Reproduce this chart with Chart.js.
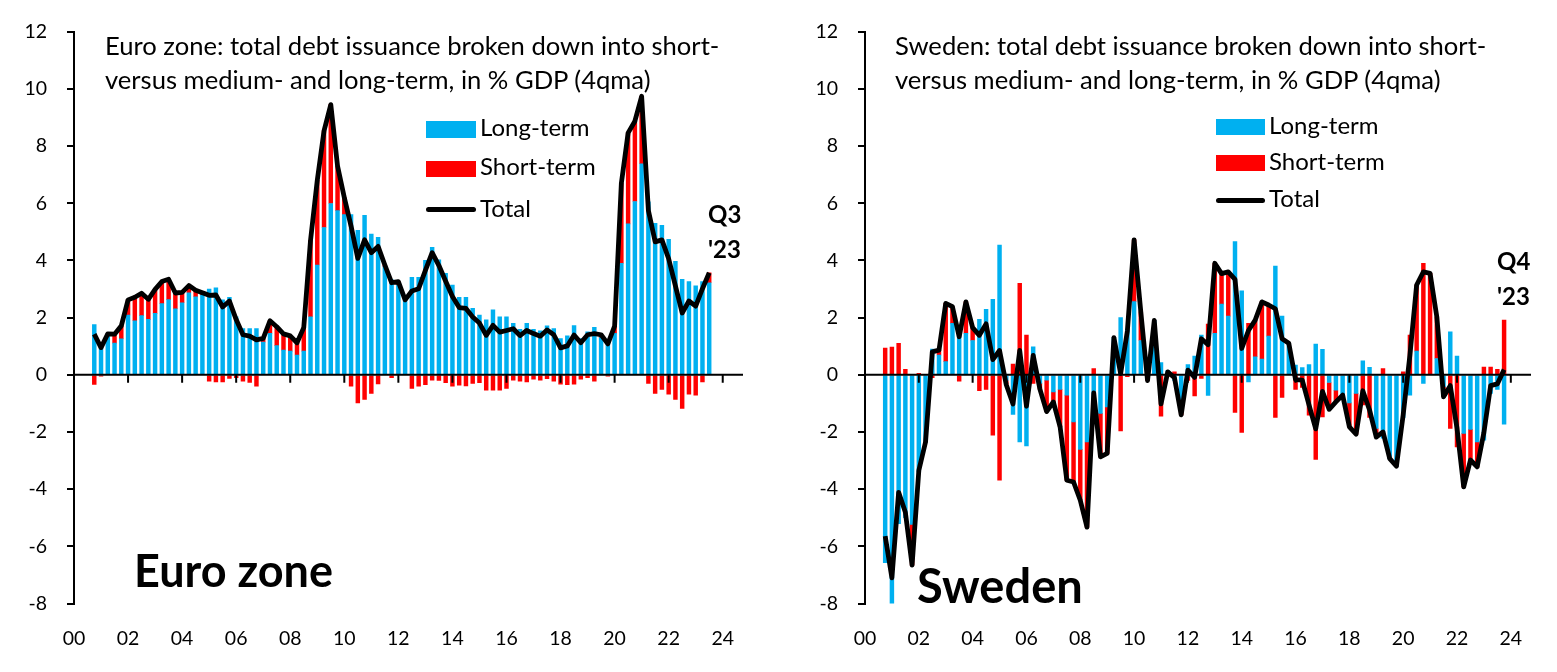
<!DOCTYPE html>
<html><head><meta charset="utf-8">
<script src="https://cdn.jsdelivr.net/npm/chart.js@4.4.1/dist/chart.umd.min.js"></script>
<style>
html,body{margin:0;padding:0;background:#fff;}
#wrap{position:relative;width:1557px;height:672px;overflow:hidden;font-family:Lato,"Open Sans",sans-serif;color:#000;}
canvas{position:absolute;top:0;}
.t{position:absolute;white-space:nowrap;}
.sw{position:absolute;}
</style></head><body><div id="wrap">
<canvas id="c1" width="780" height="672" style="left:0"></canvas>
<canvas id="c2" width="777" height="672" style="left:780px"></canvas>
</div>
<script>
// ---------- data ----------
const yearLabels = ['00','02','04','06','08','10','12','14','16','18','20','22','24'];
const yTicks = [-8,-6,-4,-2,0,2,4,6,8,10,12];
const ezStart = '2000Q4';
const seStart = '2000Q4';

const ezLong = [1.76,1.00,1.43,1.11,1.26,2.09,1.89,2.07,1.94,2.15,
 2.49,2.63,2.31,2.52,2.87,2.73,2.79,3.00,3.04,2.62,
 2.71,2.03,1.62,1.62,1.62,1.14,1.45,1.02,0.86,0.83,
 0.69,0.83,2.03,3.84,5.15,5.99,5.74,5.60,5.60,5.05,
 5.58,4.92,4.81,3.79,3.32,3.14,2.62,3.41,3.41,4.00,
 4.46,4.02,3.55,3.14,2.71,2.71,2.32,2.09,1.92,2.27,
 2.03,2.03,1.80,1.59,1.80,1.59,1.54,1.71,1.62,1.27,
 1.36,1.72,1.27,1.50,1.66,1.30,1.13,1.45,3.90,5.28,
 6.06,7.38,6.05,5.30,5.23,4.74,3.97,3.34,3.26,3.11,
 3.26,3.22];
const ezShort = [-0.34,-0.05,0.00,0.31,0.45,0.53,0.82,0.78,0.70,0.84,
 0.77,0.71,0.55,0.36,0.25,0.23,0.08,-0.22,-0.25,-0.25,
 -0.13,-0.10,-0.22,-0.27,-0.40,0.13,0.44,0.66,0.57,0.53,
 0.43,0.82,2.67,2.96,3.38,3.46,1.56,0.60,-0.40,-0.98,
 -0.86,-0.65,-0.32,0.05,-0.10,0.12,0.00,-0.48,-0.40,-0.35,
 -0.19,-0.20,-0.28,-0.40,-0.36,-0.39,-0.30,-0.28,-0.54,-0.54,
 -0.54,-0.48,-0.19,-0.22,-0.25,-0.15,-0.19,-0.14,-0.22,-0.33,
 -0.35,-0.33,-0.15,-0.10,-0.22,0.10,-0.05,0.25,2.80,3.18,
 2.81,2.36,-0.30,-0.65,-0.51,-0.68,-0.86,-1.18,-0.68,-0.71,
 -0.25,0.35];
const ezTotal = [1.42,0.95,1.43,1.42,1.71,2.62,2.71,2.85,2.64,2.99,
 3.26,3.34,2.86,2.88,3.12,2.96,2.87,2.78,2.79,2.37,
 2.58,1.93,1.40,1.35,1.22,1.27,1.89,1.68,1.43,1.36,
 1.12,1.65,4.70,6.80,8.53,9.45,7.30,6.20,5.20,4.07,
 4.72,4.27,4.49,3.84,3.22,3.26,2.62,2.93,3.01,3.65,
 4.27,3.82,3.27,2.74,2.35,2.32,2.02,1.81,1.38,1.73,
 1.49,1.55,1.61,1.37,1.55,1.44,1.35,1.57,1.40,0.94,
 1.01,1.39,1.12,1.40,1.44,1.40,1.08,1.70,6.70,8.46,
 8.87,9.74,5.75,4.65,4.72,4.06,3.11,2.16,2.58,2.40,
 3.01,3.57];

const seLong = [-6.57,-8.07,-5.21,-5.00,-5.23,-3.40,-2.35,0.90,0.69,0.46,
 1.80,1.55,1.45,1.20,1.94,2.29,2.64,4.54,-0.20,-1.39,
 -2.35,-2.49,0.98,-0.30,-0.19,-0.60,-0.51,-0.71,-1.65,-2.61,
 -2.35,-0.85,-1.35,-1.12,1.30,2.00,1.60,2.56,1.20,-0.10,
 1.90,0.43,0.15,-0.20,-0.90,0.36,0.65,1.39,-0.72,1.45,
 2.47,2.05,4.66,2.94,-0.25,0.63,0.55,1.35,3.80,2.05,
 1.10,0.34,0.25,0.36,1.07,0.89,-0.27,-0.54,-0.68,-0.98,
 -0.65,0.49,0.26,-1.88,-2.22,-2.93,-3.20,-1.50,-0.71,0.83,
 -0.30,0.00,0.57,-0.42,1.50,0.65,-2.05,-1.91,-2.35,-2.29,
 -0.65,-0.51,-1.73];
const seShort = [0.93,0.97,1.10,0.19,-1.43,0.05,0.00,-0.10,0.17,2.04,
 0.58,-0.22,1.10,0.45,-0.56,-0.51,-2.11,-3.69,-0.15,0.37,
 3.20,1.39,-0.30,-0.20,-1.10,-0.35,-1.31,-2.98,-2.10,-1.78,
 -2.98,0.22,-1.52,-1.63,0.00,-1.96,-0.07,2.16,1.00,-0.10,
 0.00,-1.45,-0.05,0.10,-0.50,-0.20,-0.74,-0.13,1.77,2.45,
 1.07,1.55,-1.32,-2.02,1.80,1.28,2.00,1.09,-1.49,-0.79,
 0.00,-0.51,-0.44,-1.41,-2.96,-1.47,-0.94,-0.41,-0.03,-0.84,
 -1.43,-1.05,-1.49,-0.30,0.22,0.00,0.00,0.10,1.39,2.31,
 3.90,3.55,1.46,-0.35,-1.88,-2.52,-1.87,-1.07,-0.87,0.27,
 0.27,0.19,1.91];
const seTotal = [-5.64,-7.10,-4.11,-4.81,-6.66,-3.35,-2.35,0.80,0.86,2.50,
 2.38,1.33,2.55,1.65,1.38,1.78,0.53,0.85,-0.35,-1.02,
 0.85,-1.10,0.68,-0.50,-1.29,-0.95,-1.82,-3.69,-3.75,-4.39,
 -5.33,-0.63,-2.87,-2.75,1.30,0.04,1.53,4.72,2.20,-0.20,
 1.90,-1.02,0.10,-0.10,-1.40,0.16,-0.09,1.26,1.05,3.90,
 3.54,3.60,3.34,0.92,1.55,1.91,2.55,2.44,2.31,1.26,
 1.10,-0.17,-0.19,-1.05,-1.89,-0.58,-1.21,-0.95,-0.71,-1.82,
 -2.08,-0.56,-1.23,-2.18,-2.00,-2.93,-3.20,-1.40,0.68,3.14,
 3.60,3.55,2.03,-0.77,-0.38,-1.87,-3.92,-2.98,-3.22,-2.02,
 -0.38,-0.32,0.18];

// ---------- helpers ----------
function quarterList(start, n){
  let y = parseInt(start.slice(0,4),10), q = parseInt(start.slice(5),10);
  const out = [];
  for(let i=0;i<n;i++){ out.push(y+'Q'+q); q++; if(q>4){q=1;y++;} }
  return out;
}
function qToNum(s){ return parseInt(s.slice(0,4),10) + (parseInt(s.slice(5),10)-1)/4; }
const ezQuarters = quarterList(ezStart, ezLong.length);
const seQuarters = quarterList(seStart, seLong.length);
function pts(cats, vals){ return vals.map((v,i)=>({x:qToNum(cats[i]), y:v})); }

const BLUE = '#00B0F0', RED = '#FF0000';

const zeroAxis = {
  id:'zeroAxis',
  afterDatasetsDraw(chart){
    const {ctx, chartArea:a, scales:{x,y}} = chart;
    const y0 = y.getPixelForValue(0);
    ctx.save();
    ctx.strokeStyle = '#000'; ctx.lineWidth = 2;
    ctx.beginPath();
    ctx.moveTo(a.left, y0); ctx.lineTo(a.right, y0);
    x.ticks.forEach(t=>{ const px = x.getPixelForValue(t.value); ctx.moveTo(px, y0); ctx.lineTo(px, y0+8); });
    ctx.stroke();
    ctx.restore();
  }
};

function makeChart(id, cats, lng, sht, tot, yW, padR){
  return new Chart(document.getElementById(id), {
    type:'bar',
    data:{ datasets:[
      {type:'line', label:'Total', data:pts(cats,tot), borderColor:'#000', borderWidth:4.8,
       pointRadius:0, tension:0, borderJoinStyle:'round', order:0, fill:false},
      {type:'bar', label:'Long-term', data:pts(cats,lng), backgroundColor:BLUE, barThickness:3.8, grouped:false, order:1, borderWidth:0},
      {type:'bar', label:'Short-term', data:pts(cats,sht), backgroundColor:RED, barThickness:3.8, grouped:false, order:2, borderWidth:0}
    ]},
    options:{
      responsive:false, animation:false, devicePixelRatio:1,
      layout:{padding:{left:0, right:padR, top:31.5, bottom:0}},
      plugins:{legend:{display:false}, tooltip:{enabled:false}, title:{display:false}},
      scales:{
        x:{type:'linear', min:2000, max:2024.75, position:'bottom', offset:false,
           grid:{display:false, drawTicks:false, offset:false}, border:{display:false},
           ticks:{stepSize:2, includeBounds:false, autoSkip:false, maxRotation:0, padding:24,
                  color:'#000', font:{family:'Lato', size:19.5},
                  callback:(v)=>yearLabels[Math.round((v-2000)/2)] ?? ''},
           afterFit:(s)=>{ s.height = 68.5; }},
        y:{type:'linear', min:-8, max:12, stacked:true,
           grid:{drawOnChartArea:false, drawTicks:true, tickLength:7, color:'#000', lineWidth:2},
           border:{display:true, color:'#000', width:2},
           afterBuildTicks:(s)=>{ s.ticks = yTicks.map(v=>({value:v})); },
           ticks:{padding:20, color:'#000', font:{family:'Lato', size:19.5}},
           afterFit:(s)=>{ s.width = yW; }}
      }
    },
    plugins:[zeroAxis]
  });
}

makeChart('c1', ezQuarters, ezLong, ezShort, ezTotal, 74, 37);
makeChart('c2', seQuarters, seLong, seShort, seTotal, 85, 26);

// ---------- texts ----------
const wrap = document.getElementById('wrap');
function addText(txt, x, baseline, size, bold){
  const d = document.createElement('div');
  d.className = 't'; d.textContent = txt;
  d.style.left = x+'px'; d.style.top = (baseline - 0.987*size)+'px';
  d.style.fontSize = size+'px'; d.style.lineHeight = (1.2*size)+'px';
  if(bold) d.style.fontWeight = '700';
  wrap.appendChild(d);
}
function addBox(x, y, w, h, color, radius){
  const d = document.createElement('div');
  d.className = 'sw';
  d.style.left = x+'px'; d.style.top = y+'px'; d.style.width = w+'px'; d.style.height = h+'px';
  d.style.background = color; if(radius) d.style.borderRadius = radius+'px';
  wrap.appendChild(d);
}
// Euro zone panel
addText('Euro zone: total debt issuance broken down into short-', 105, 55.7, 25.6);
addText('versus medium- and long-term, in % GDP (4qma)', 105, 89.5, 25.6);
addBox(426, 121, 50, 16.5, BLUE);
addText('Long-term', 480, 136.7, 24);
addBox(426, 160.5, 50, 16.5, RED);
addText('Short-term', 480, 175.7, 24);
addBox(426, 206.5, 50, 5, '#000', 2.5);
addText('Total', 480, 217.3, 24);
addText('Euro zone', 134, 587.3, 45, true);
addText('Q3', 708, 223.3, 24, true);
addText("'23", 708, 258.3, 24, true);
// Sweden panel
addText('Sweden: total debt issuance broken down into short-', 895, 55.7, 25.6);
addText('versus medium- and long-term, in % GDP (4qma)', 895, 89.5, 25.6);
addBox(1216, 119, 49, 16, BLUE);
addText('Long-term', 1269, 134.5, 24);
addBox(1216, 155, 49, 16, RED);
addText('Short-term', 1269, 171, 24);
addBox(1216, 197.5, 49, 5, '#000', 2.5);
addText('Total', 1269, 208, 24);
addText('Sweden', 917, 603, 47, true);
addText('Q4', 1497, 271, 24, true);
addText("'23", 1497, 306, 24, true);
</script>
</body></html>
